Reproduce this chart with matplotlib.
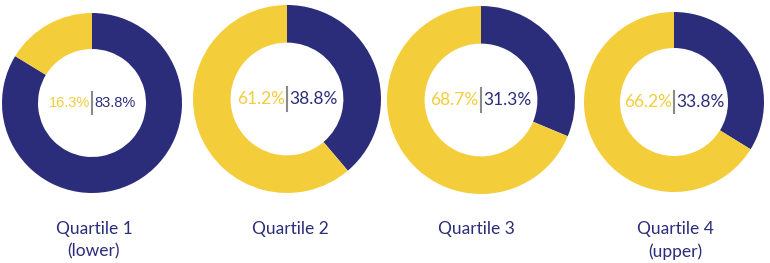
import matplotlib.pyplot as plt

# data
quartiles = ['Quartile 1\n(lower)', 'Quartile 2', 'Quartile 3', 'Quartile 4\n(upper)']
navy_pct = [83.8, 38.8, 31.3, 33.8]
yellow_pct = [16.3, 61.2, 68.7, 66.2]

navy = '#2b2d7b'
yellow = '#f3cd3a'
grey = '#8a8a8a'

plt.rcParams['font.family'] = ['Lato', 'DejaVu Sans']

W, H = 770, 263
fig = plt.figure(figsize=(W / 100, H / 100), dpi=100)

# donut centres / radius in pixels
centers = [(92, 103, 90), (287, 99, 94), (481, 100, 94), (674, 102, 90)]
label_x = [94, 290, 476, 675]
pct_font = [('Liberation Sans', 10.5), ('Lato', 12.5), ('Lato', 12.5), ('Lato', 12.5)]

for i, (cx, cy, r) in enumerate(centers):
    ax = fig.add_axes([(cx - r) / W, (H - cy - r) / H, 2 * r / W, 2 * r / H])
    ax.pie([navy_pct[i], yellow_pct[i]], colors=[navy, yellow], startangle=90,
           counterclock=False, radius=1, wedgeprops=dict(width=0.4, linewidth=0))
    ax.set_xlim(-1, 1)
    ax.set_ylim(-1, 1)
    ax.set_aspect('equal')
    ax.axis('off')
    fam, fs = pct_font[i]
    ax.text(-0.025, 0.0, '{:.1f}%'.format(yellow_pct[i]), color=yellow,
            ha='right', va='center', fontsize=fs, family=[fam, 'DejaVu Sans'])
    ax.text(0.025, 0.0, '{:.1f}%'.format(navy_pct[i]), color=navy,
            ha='left', va='center', fontsize=fs, family=[fam, 'DejaVu Sans'])
    ax.plot([0, 0], [-0.125, 0.125], color=grey, lw=1.5)

    fig.text(label_x[i] / W, 1 - 221 / H, quartiles[i], color=navy, ha='center',
             va='top', fontsize=12.5, linespacing=1.5)

plt.savefig('out.png', dpi=100)
